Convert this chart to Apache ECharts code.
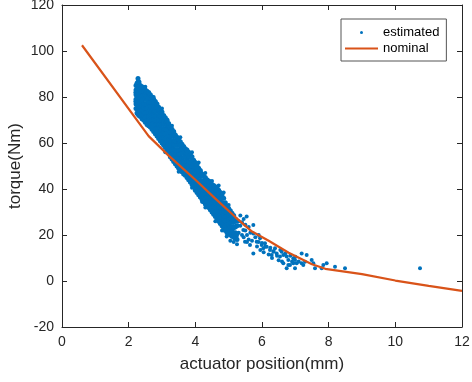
<!DOCTYPE html>
<html>
<head>
<meta charset="utf-8">
<script src="https://cdn.jsdelivr.net/npm/echarts@6/dist/echarts.min.js"></script>
<style>html,body{margin:0;padding:0;background:#fff}#c{width:472px;height:382px}</style>
</head>
<body>
<div id="c"></div>
<script>
// Tick values
const xTicks = [0, 2, 4, 6, 8, 10, 12];
const yTicks = [-20, 0, 20, 40, 60, 80, 100, 120];

// Nominal torque curve [position mm, torque Nm]
const nominalX = [0.6, 2.6, 3.2, 4.0, 4.6, 5.2, 5.7, 6.2, 6.8, 7.5, 7.9, 9.0, 10.0, 11.0, 12.0];
const nominalY = [102.5, 63, 54.5, 44, 35.8, 27.8, 21.5, 17.5, 12.3, 7.3, 5.3, 3.0, 0.2, -2.1, -4.3];

// Estimated torque: dense cloud, read as columns [position, torques...]
const denseCols = [
  [2.22,[75,77,79,81,83,85]],
  [2.25,[73,75,77,79,81,83,85,86]],
  [2.28,[72.5,74.5,76.5,78.5,80.5,82.5,84.5,86.5,88]],
  [2.31,[72,74,76,78,80,82,84,86.5]],
  [2.35,[71.5,73.5,75.5,77.5,79.5,81.5,83.5,85]],
  [2.40,[70.5,72.5,74.5,76.5,78.5,80.5,82.5,84.5]],
  [2.45,[70,71.8,73.6,75.4,77.2,79,80.8,82.6,84]],
  [2.50,[69,71,73,75,77,79,81,83]],
  [2.55,[68,69.8,71.6,73.4,75.2,77,78.8,80.6,82.5]],
  [2.60,[67.5,69.5,71.5,73.5,75.5,77.5,79.5,81.5,82]],
  [2.65,[67,68.8,70.6,72.4,74.2,76,77.8,79.6,81]],
  [2.70,[66,68,70,72,74,76,78,80]],
  [2.75,[65,66.8,68.6,70.4,72.2,74,75.8,77.6,79]],
  [2.80,[64,66,68,70,72,74,76,78]],
  [2.85,[63,64.8,66.6,68.4,70.2,72,73.8,75.6,77]],
  [2.90,[62,64,66,68,70,72,74,75.5]],
  [2.95,[61,62.8,64.6,66.4,68.2,70,71.8,73.6,74.5]],
  [3.00,[60,62,64,66,68,70,72,73.5]],
  [3.05,[59,60.8,62.6,64.4,66.2,68,69.8,71.6,72]],
  [3.10,[58,60,62,64,66,68,70,71]],
  [3.15,[57,58.8,60.6,62.4,64.2,66,67.8,69.6,70]],
  [3.20,[55.5,57.5,59.5,61.5,63.5,65.5,67.5,68.5]],
  [3.25,[54,55.8,57.6,59.4,61.2,63,64.8,66.6,67]],
  [3.30,[53,55,57,59,61,63,65,66]],
  [3.35,[52,53.8,55.6,57.4,59.2,61,62.8,64.6,65]],
  [3.40,[51,53,55,57,59,61,63,63.5]],
  [3.45,[50,51.8,53.6,55.4,57.2,59,60.8,62.5]],
  [3.50,[49,51,53,55,57,59,61,61.5]],
  [3.55,[48,49.8,51.6,53.4,55.2,57,58.8,60.5]],
  [3.60,[47.5,49.5,51.5,53.5,55.5,57.5,59.5]],
  [3.65,[46.5,48.3,50.1,51.9,53.7,55.5,57.3,58.5]],
  [3.70,[46,48,50,52,54,56,57.5]],
  [3.75,[45,46.8,48.6,50.4,52.2,54,55.8,57]],
  [3.80,[44,46,48,50,52,54,56]],
  [3.85,[43,44.8,46.6,48.4,50.2,52,53.8,55]],
  [3.90,[42,44,46,48,50,52,54]],
  [3.95,[41,42.8,44.6,46.4,48.2,50,51.8,52.5]],
  [4.00,[39.5,41.5,43.5,45.5,47.5,49.5,51.5]],
  [4.05,[38.5,40.3,42.1,43.9,45.7,47.5,49.3,50.5]],
  [4.10,[37.5,39.5,41.5,43.5,45.5,47.5,49]],
  [4.15,[36.5,38.3,40.1,41.9,43.7,45.5,47.3,48]],
  [4.20,[35.5,37.5,39.5,41.5,43.5,45.5,46.5]],
  [4.25,[34.5,36.3,38.1,39.9,41.7,43.5,45.5]],
  [4.30,[33.5,35.5,37.5,39.5,41.5,43.5,45]],
  [4.35,[33,34.8,36.6,38.4,40.2,42,44]],
  [4.40,[32,34,36,38,40,42,43.5]],
  [4.45,[31,32.8,34.6,36.4,38.2,40,41.8,43]],
  [4.50,[30,32,34,36,38,40,42]],
  [4.55,[29,30.8,32.6,34.4,36.2,38,39.8,41.5]],
  [4.60,[28,30,32,34,36,38,40,41]],
  [4.65,[27,28.8,30.6,32.4,34.2,36,37.8,39.6,40.5]],
  [4.70,[26,28,30,32,34,36,38,39.5]],
  [4.75,[25,26.8,28.6,30.4,32.2,34,35.8,37.6,38.5]],
  [4.80,[24,26,28,30,32,34,36,37.5]],
  [4.85,[23,24.8,26.6,28.4,30.2,32,33.8,36]],
  [4.90,[22,24,26,28,30,32,34]],
  [4.95,[21,22.8,24.6,26.4,28.2,30,32.5]],
  [5.00,[20.5,22.5,24.5,26.5,28.5,30.5,31.5]],
  [5.05,[20,21.8,23.6,25.4,27.2,29,30.5]],
  [5.10,[19.5,21.5,23.5,25.5,27.5,29.5]],
  [5.15,[19,21,23.2,25.4,28.5]],
  [5.20,[18.5,21,23.5,27]],
  [5.25,[18,20.5,24,26]]
];

// Estimated torque: scattered points [position, torque]
const sparsePts = [
  [2.2,78],[2.2,82],[2.5,84.5],[2.75,80],[3.0,75],[3.3,67.5],[3.55,62.5],[3.9,56],
  [4.1,51.5],[4.3,47],[4.5,43.5],[4.7,41.5],[4.85,38.5],[5.0,33],
  [3.1,56],[3.5,47.5],[3.9,40.5],[4.3,32],[4.6,26],[4.94,19.4],[4.8,22],[4.2,34.5],
  [5.54,28.0],[5.74,24.3],[5.44,22.2],[5.24,19.3],[5.49,17.1],[5.74,20.7],[5.94,18.6],
  [5.99,15.7],[5.74,12.0],[6.14,14.9],[6.24,13.5],[6.44,12.0],[6.54,10.6],[6.64,11.3],
  [6.79,9.1],[6.94,9.9],[7.04,7.7],[7.19,12.0],[7.34,11.3],[7.29,8.4],[6.84,7.0],[6.74,5.5],
  [6.34,12.7],[6.04,14.2],[5.64,15.7],[5.84,17.1],[6.09,16.4],[6.29,11.3],[6.39,14.2],
  [6.59,12.7],[6.74,10.6],[6.64,7.7],[6.79,7.0],[6.94,7.7],[6.99,5.5],[6.99,9.1],
  [7.24,7.0],[7.19,7.7],[7.49,9.1],[7.54,7.7],[7.59,5.5],[7.79,5.5],[7.84,7.0],[7.94,7.7],
  [8.19,6.2],[8.49,5.5],[10.74,5.5],
  [5.3,21],[5.35,24],[5.4,20],[5.45,19],[5.5,22],[5.55,20],[5.6,18],[5.65,21],[5.7,17.5],
  [5.8,19],[5.85,15],[5.9,17],[5.95,13.5],[6.0,16.5],[6.05,12.5],[6.1,15],[6.2,11.5],
  [6.25,14.5],[6.3,10],[6.35,13],[6.45,11],[6.5,9],[6.55,13.5],[6.6,8.5],[6.7,12],
  [6.85,11],[6.9,8.5],[7.0,10.5],[7.1,8.5],[5.3,26],[5.35,28.5],[5.15,17],[5.4,25.5],
  [5.05,17.5],[5.25,16],[5.6,23.5],[5.9,20],[5.45,27],[5.5,24.5],[5.55,17]
];

const denseData = [];
denseCols.forEach(c => c[1].forEach(v => denseData.push([c[0], v])));
const nominal = nominalX.map((x, i) => [x, nominalY[i]]);

const axisColor = '#262626';
const font = 'Liberation Sans, Arial, Helvetica, sans-serif';
function xAx(pos, show) {
  return {
    type: 'value', position: pos, min: xTicks[0], max: xTicks[xTicks.length - 1], interval: 2,
    name: show ? 'actuator position(mm)' : '', nameLocation: 'middle', nameGap: 29,
    nameMoveOverlap: false,
    nameTextStyle: { color: axisColor, fontSize: 17, fontFamily: font },
    axisLine: { onZero: false, lineStyle: { color: axisColor, width: 1 } },
    axisTick: { inside: true, length: 5, lineStyle: { color: axisColor } },
    axisLabel: { show: show, color: axisColor, fontSize: 14, fontFamily: font, margin: 8 },
    splitLine: { show: false }
  };
}
function yAx(pos, show) {
  return {
    type: 'value', position: pos, min: yTicks[0], max: yTicks[yTicks.length - 1], interval: 20,
    name: show ? 'torque(Nm)' : '', nameLocation: 'middle', nameGap: 38,
    nameMoveOverlap: false,
    nameTextStyle: { color: axisColor, fontSize: 17, fontFamily: font },
    axisLine: { onZero: false, lineStyle: { color: axisColor, width: 1 } },
    axisTick: { inside: true, length: 5, lineStyle: { color: axisColor } },
    axisLabel: { show: show, color: axisColor, fontSize: 14, fontFamily: font, margin: 8 },
    splitLine: { show: false }
  };
}

const chart = echarts.init(document.getElementById('c'), null, { renderer: 'canvas' });
chart.setOption({
  animation: false,
  backgroundColor: '#fff',
  grid: { left: 62, right: 10, top: 5, bottom: 55, containLabel: false, outerBoundsMode: 'none' },
  xAxis: [xAx('bottom', true), xAx('top', false)],
  yAxis: [yAx('left', true), yAx('right', false)],
  legend: {
    orient: 'vertical', left: 341, top: 19,
    padding: [7, 7, 6, 4], itemGap: 3, itemWidth: 33, itemHeight: 3,
    backgroundColor: '#fff', borderColor: '#555', borderWidth: 1,
    textStyle: { color: '#000', fontSize: 13, fontFamily: font },
    data: [
      { name: 'estimated' },
      { name: 'nominal', icon: 'path://M0,0 L33,0 L33,2 L0,2 Z', itemStyle: { color: '#D95319' } }
    ]
  },
  series: [
    {
      name: 'estimated', type: 'scatter', data: sparsePts,
      symbol: 'circle', symbolSize: 4,
      itemStyle: { color: '#0072BD', opacity: 1 }
    },
    {
      name: 'estimated', type: 'scatter', data: denseData,
      symbol: 'circle', symbolSize: 5,
      itemStyle: { color: '#0072BD', opacity: 1 }
    },
    {
      name: 'nominal', type: 'line', data: nominal,
      showSymbol: false, symbol: 'none',
      lineStyle: { color: '#D95319', width: 2.2 },
      itemStyle: { color: '#D95319' }
    }
  ]
});
</script>
</body>
</html>
